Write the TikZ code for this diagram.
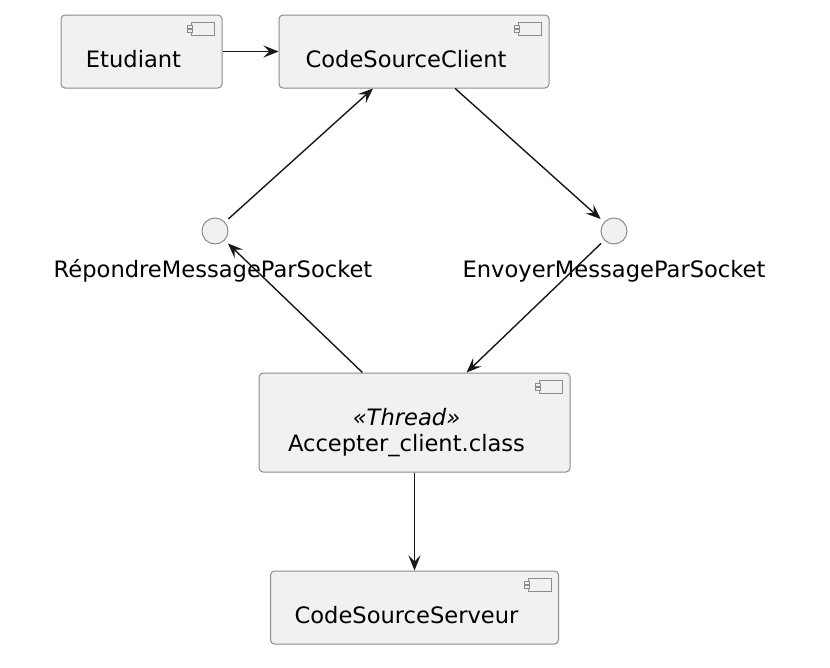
\documentclass[tikz,border=0pt]{standalone}
\usepackage{fontspec}
\setmainfont{DejaVu Sans}
\usepackage{tikz}
\usetikzlibrary{arrows.meta, positioning}
\definecolor{compfill}{HTML}{F1F1F1}
\definecolor{compline}{HTML}{8C8C8C}
\definecolor{arrowline}{HTML}{181818}

\begin{document}
\begin{tikzpicture}[
		x=1pt, y=-1pt,
		font=\fontsize{22.6}{26}\selectfont,
		comp/.style={rectangle, draw=compline, line width=1pt, fill=compfill, rounded corners=4pt, minimum height=73pt, inner sep=0pt},
		lbl/.style={inner sep=0pt, text height=16pt, text depth=5pt, xshift=-8pt},
		ilbl/.style={inner sep=0pt, text height=16pt, text depth=5pt},
		iface/.style={circle, draw=compline, line width=1pt, fill=compfill, minimum size=26pt, inner sep=0pt, outer sep=5pt},
		icon/.style={draw=compline, line width=0.8pt, fill=compfill},
		arrow/.style={-{Stealth[length=15pt, width=12pt, inset=6pt]}, draw=arrowline, line width=1.4pt}
		]
		
		\useasboundingbox (0,0) rectangle (830,667);
		
		% Client side components on top
		\node[comp, minimum width=270pt, label={[lbl, yshift=-10pt]center:CodeSourceClient}] (client) at (414,51.5) {};
		\node[comp, minimum width=161pt, left=56pt of client, label={[lbl, yshift=-10pt]center:Etudiant}] (etudiant) {};
		
		% Socket interfaces in the middle
		\node[iface, label={[ilbl, xshift=-2pt, yshift=-40.5pt]center:RépondreMessageParSocket}] (repondre) at (215,231) {};
		\node[iface, label={[ilbl, yshift=-40.5pt]center:EnvoyerMessageParSocket}] (envoyer) at (614,231) {};
		
		% Server side components below
		\node[comp, minimum width=311pt, minimum height=99pt,
			label={[lbl, yshift=3pt]center:{\itshape «Thread»}},
			label={[lbl, yshift=-23pt]center:Accepter\_client.class}] (thread) at (414.5,422.5) {};
		\node[comp, minimum width=288pt, below=98pt of thread, label={[lbl, yshift=-10pt]center:CodeSourceServeur}] (serveur) {};
		
		% Component icons in the top right corners
		\foreach \n in {etudiant, client, thread, serveur} {
			\draw[icon] ([shift={(-31,8)}]\n.north east) rectangle ++(23,13);
			\draw[icon] ([shift={(-35,11)}]\n.north east) rectangle ++(5,3);
			\draw[icon] ([shift={(-35,15)}]\n.north east) rectangle ++(5,3);
		}
		
		% Message flow
		\draw[arrow] (etudiant) -- (client);
		\draw[arrow] (client) -- (envoyer);
		\draw[arrow] (envoyer) -- (thread);
		\draw[arrow] (thread) -- (repondre);
		\draw[arrow] (repondre) -- (client);
		\draw[arrow] (thread) -- (serveur);
		
	\end{tikzpicture}
\end{document}
